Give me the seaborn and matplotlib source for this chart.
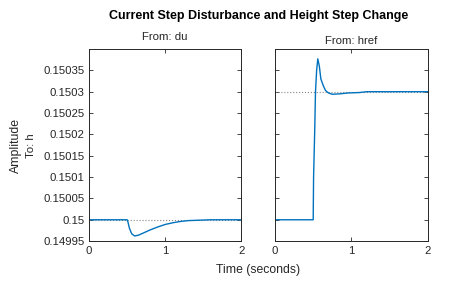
import matplotlib
matplotlib.use('Agg')
import matplotlib.pyplot as plt
import numpy as np
import pandas as pd
import seaborn as sns

# step response from du to h
t_du = [0, 0.5, 0.51, 0.53, 0.56, 0.6, 0.65, 0.7, 0.8, 0.9, 1.0, 1.1, 1.2, 1.3, 1.45, 1.6, 2.0]
h_du = [0.15, 0.15, 0.149995, 0.14998, 0.149967, 0.149962, 0.149964, 0.149968, 0.149976,
        0.149983, 0.149989, 0.149993, 0.149996, 0.149998, 0.149999, 0.15, 0.15]

# step response from href to h
t_href = [0, 0.5, 0.505, 0.52, 0.53, 0.545, 0.56, 0.58, 0.6, 0.63, 0.66, 0.7, 0.75, 0.85,
          0.95, 1.1, 1.2, 2.0]
h_href = [0.15, 0.15, 0.1501, 0.15021, 0.1503, 0.15035, 0.150377, 0.15036, 0.15033, 0.150315,
          0.150303, 0.150297, 0.150294, 0.150295, 0.150297, 0.150298, 0.1503, 0.1503]

final_du = 0.15
final_href = 0.1503

yticks = [0.14995, 0.15, 0.15005, 0.1501, 0.15015, 0.1502, 0.15025, 0.1503, 0.15035]
ytick_labels = ['0.14995', '0.15', '0.15005', '0.1501', '0.15015', '0.1502', '0.15025',
                '0.1503', '0.15035']
xticks = [0, 1, 2]

sns.set_style('white')
plt.rcParams['font.family'] = ['Liberation Sans', 'DejaVu Sans']
axis_col = '#262626'
line_col = '#0072BD'

fig = plt.figure(figsize=(4.74, 2.85), dpi=100)
ax1 = fig.add_axes([0.188, 0.154, 0.321, 0.674])
ax2 = fig.add_axes([0.580, 0.154, 0.323, 0.674])

panels = [(ax1, t_du, h_du, final_du, 'From: du', 1.03),
          (ax2, t_href, h_href, final_href, 'From: href', 1.01)]
for ax, t, h, fin, title, ty in panels:
    ax.axhline(fin, color='#888888', linestyle=':', linewidth=0.8, zorder=1)
    df = pd.DataFrame({'t': t, 'h': h})
    sns.lineplot(data=df, x='t', y='h', ax=ax, color=line_col, linewidth=1.0, zorder=2)
    ax.set_xlim(0, 2)
    ax.set_ylim(0.14995, 0.1504)
    ax.set_xticks(xticks)
    ax.set_xticklabels([str(x) for x in xticks])
    ax.set_yticks(yticks)
    ax.set_xlabel('')
    ax.set_ylabel('')
    ax.tick_params(direction='in', length=3, width=0.6, colors=axis_col, labelsize=8.2,
                   top=True, right=True, left=True, bottom=True)
    for s in ax.spines.values():
        s.set_color(axis_col)
        s.set_linewidth(0.7)
    ax.set_title(title, fontsize=8.2, color=axis_col, y=ty, pad=2)

ax1.set_yticklabels(ytick_labels)
ax2.set_yticklabels([])

fig.text(0.545, 0.945, 'Current Step Disturbance and Height Step Change', ha='center',
         va='center', fontsize=9, fontweight='bold', color='black')
fig.text(0.545, 0.052, 'Time (seconds)', ha='center', va='center', fontsize=8.8, color=axis_col)
fig.text(0.033, 0.49, 'Amplitude', rotation=90, ha='center', va='center', fontsize=8.8,
         color=axis_col)
fig.text(0.065, 0.49, 'To: h', rotation=90, ha='center', va='center', fontsize=8.2,
         color=axis_col)

fig.savefig('out.png', dpi=100)
